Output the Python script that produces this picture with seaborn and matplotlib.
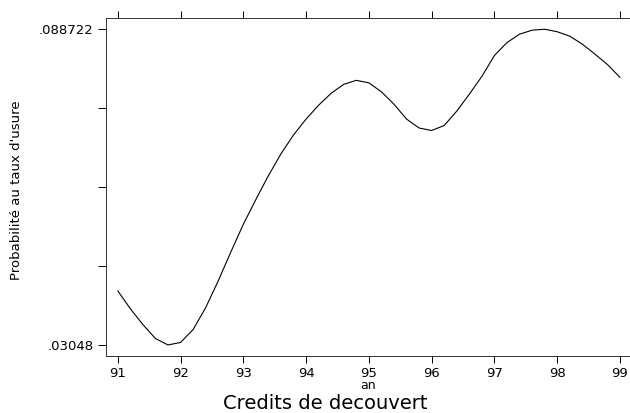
import numpy as np
import pandas as pd
import matplotlib
matplotlib.use("Agg")
import matplotlib.pyplot as plt
import seaborn as sns

# annee (an) et probabilite lissee
annee = [91.0, 91.2, 91.4, 91.6, 91.8, 92.0, 92.2, 92.4, 92.6, 92.8,
         93.0, 93.2, 93.4, 93.6, 93.8, 94.0, 94.2, 94.4, 94.6, 94.8,
         95.0, 95.2, 95.4, 95.6, 95.8, 96.0, 96.2, 96.4, 96.6, 96.8,
         97.0, 97.2, 97.4, 97.6, 97.8, 98.0, 98.2, 98.4, 98.6, 98.8, 99.0]
proba = [0.04046, 0.03717, 0.03424, 0.03167, 0.03048, 0.03094, 0.03332, 0.03735, 0.04229, 0.04760,
         0.05273, 0.05731, 0.06171, 0.06574, 0.06922, 0.07215, 0.07471, 0.07691, 0.07856, 0.07929,
         0.07883, 0.07718, 0.07489, 0.07215, 0.07050, 0.07004, 0.07096, 0.07361, 0.07673, 0.08002,
         0.08387, 0.08625, 0.08781, 0.08854, 0.088722, 0.08826, 0.08744, 0.08597, 0.08414, 0.08222,
         0.07984]

x_ticks = [91, 92, 93, 94, 95, 96, 97, 98, 99]
y_min_label = ".03048"
y_max_label = ".088722"

df = pd.DataFrame({"an": annee, "proba": proba})

sns.set_theme(style="ticks")
plt.rcParams['font.family'] = ['DejaVu Sans']
plt.rcParams['text.color'] = 'black'

fig = plt.figure(figsize=(6.3, 4.13), dpi=100)
ax = fig.add_axes([0.168, 0.138, 0.830, 0.818])

sns.lineplot(data=df, x="an", y="proba", ax=ax, color="black", linewidth=0.8)

ymin, ymax = min(proba), max(proba)
step = (ymax - ymin) / 4
ax.set_ylim(ymin - 0.14 * step, ymax + 0.14 * step)
ax.set_xlim(90.81, 99.14)

ax.set_xticks(x_ticks)
ax.set_xticklabels([str(v) for v in x_ticks])
yt = np.linspace(ymin, ymax, 5)
ax.set_yticks(yt)
ax.set_yticklabels([y_min_label, "", "", "", y_max_label])

ax.tick_params(axis="x", direction="out", length=5, width=0.7, top=True,
               labeltop=False, labelsize=9.5, pad=3, colors="black")
ax.tick_params(axis="y", direction="out", length=6, width=0.7, labelsize=9.5,
               pad=3, colors="black")

for s in ["left", "bottom", "top"]:
    ax.spines[s].set_linewidth(0.7)
    ax.spines[s].set_color("#333333")
ax.spines["right"].set_visible(False)

ax.set_xlabel("")
ax.set_ylabel("")

fig.text(0.026, 0.54, "Probabilité au taux d'usure", rotation=90,
         ha="center", va="center", fontsize=9.5, color="black")
fig.text(0.584, 0.066, "an", ha="center", va="center", fontsize=9, color="black")
fig.text(0.516, 0.024, "Credits de decouvert", ha="center", va="center",
         fontsize=14, color="black")

fig.savefig("out.png", dpi=100, facecolor="white")
